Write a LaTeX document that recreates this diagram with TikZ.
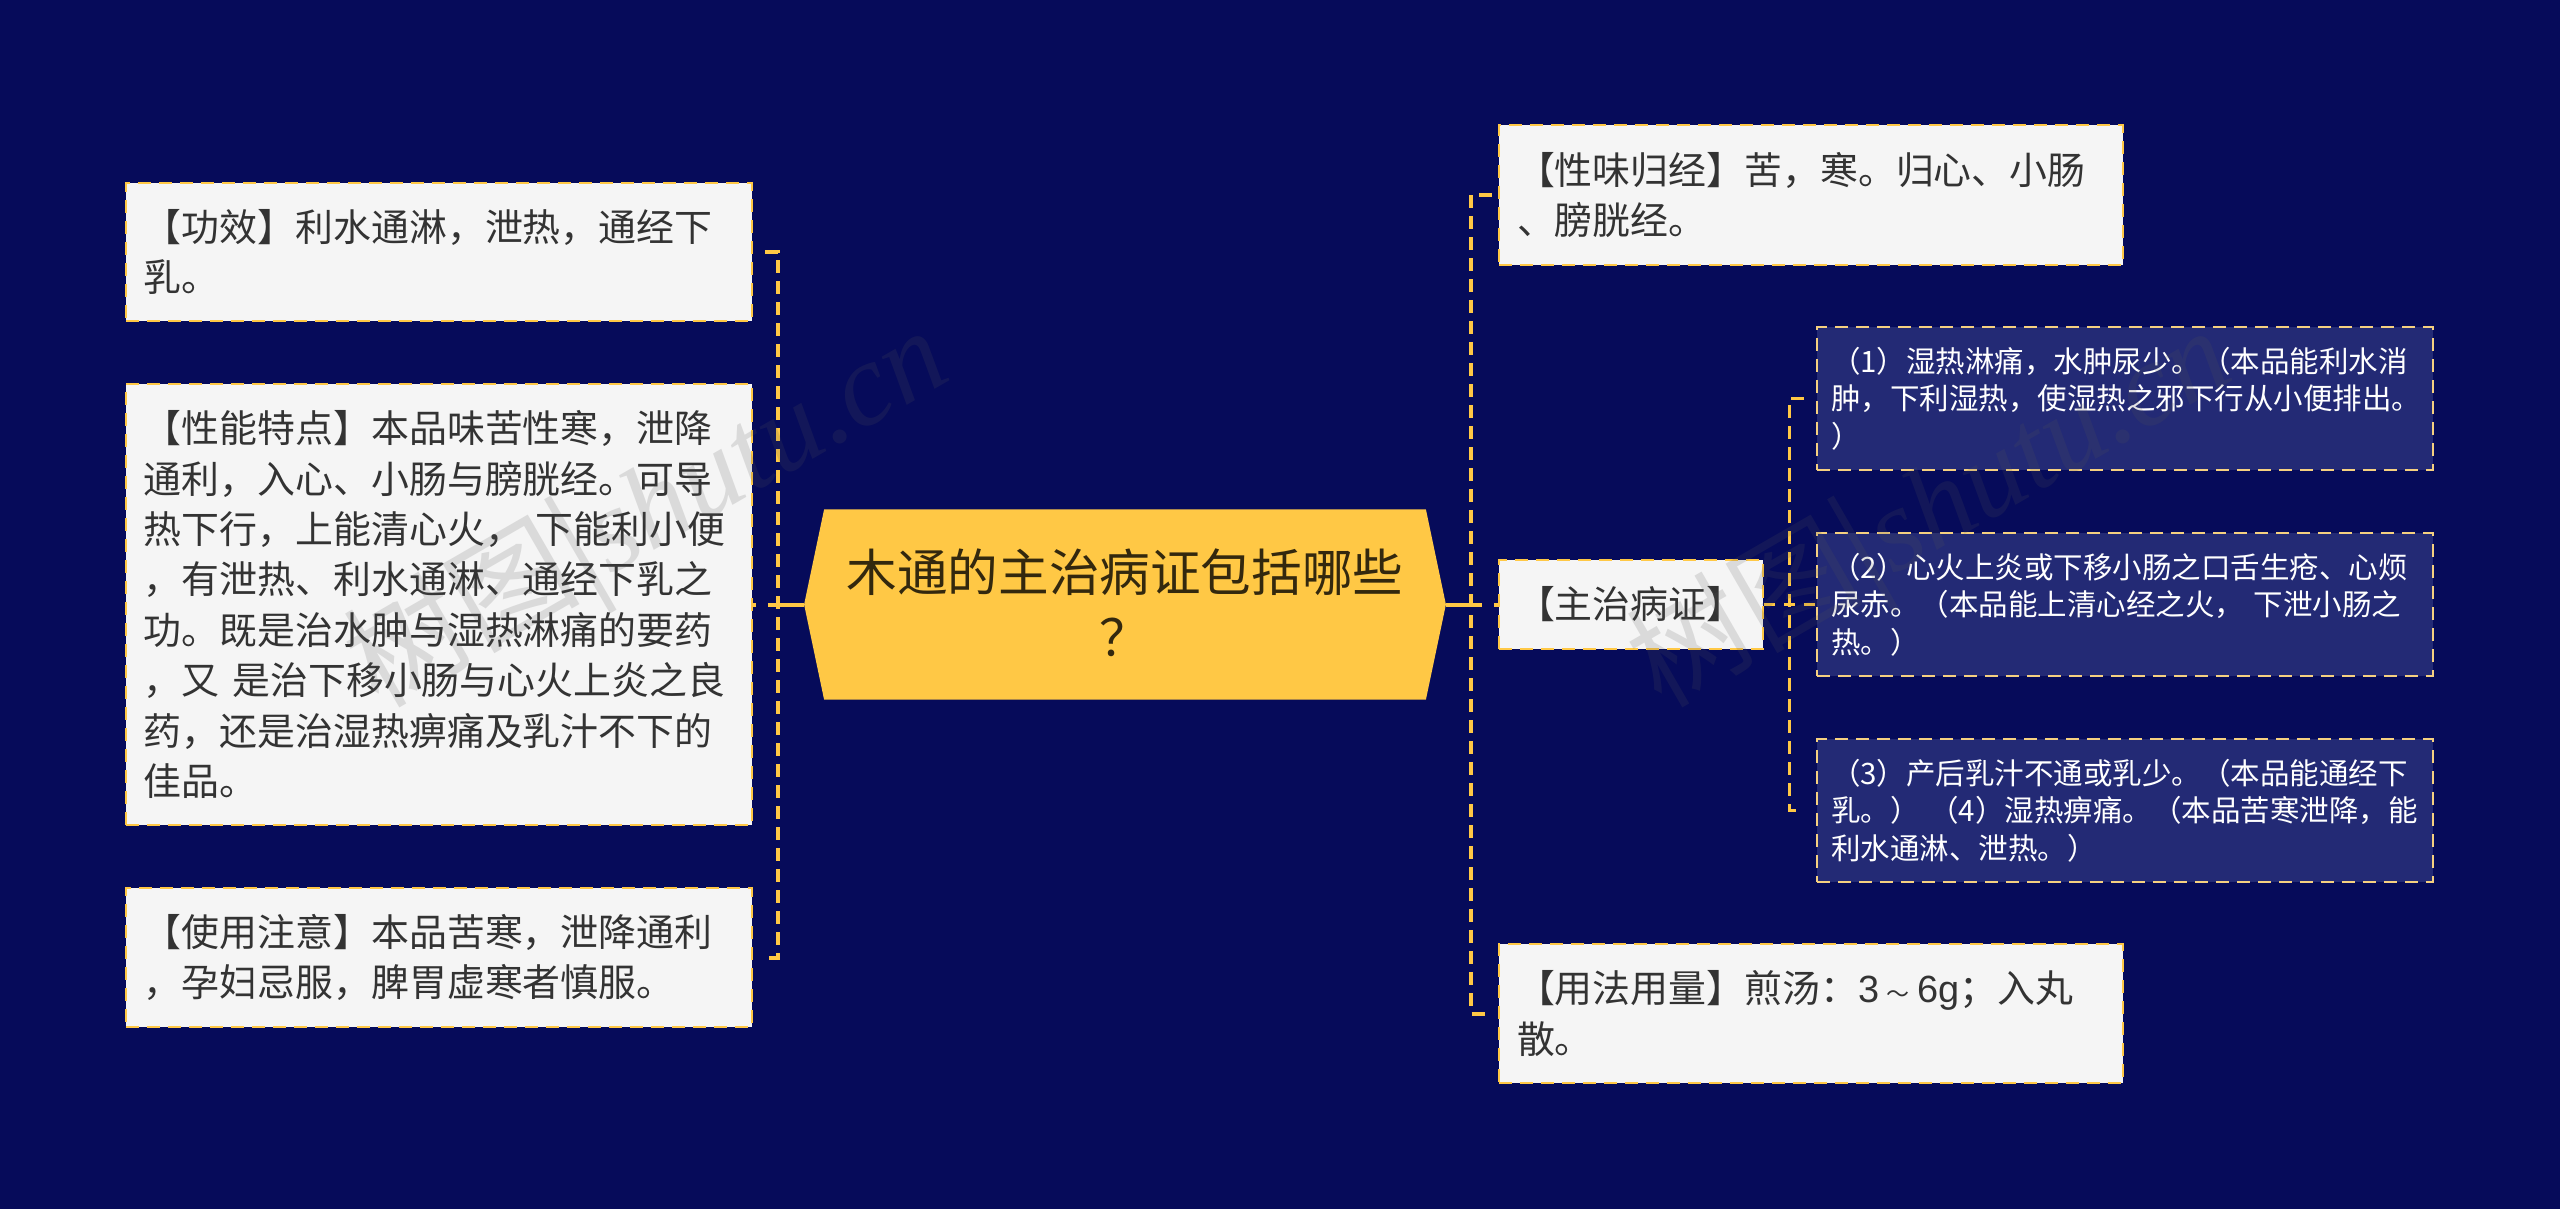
\documentclass[tikz,border=0pt]{standalone}
\usepackage{fontspec}
\setmainfont{Noto Sans CJK SC}
\newfontfamily\latf{Liberation Sans}
\newfontfamily\markf{Liberation Serif}
\usetikzlibrary{calc}
\definecolor{bgc}{HTML}{060B5A}
\definecolor{goldc}{HTML}{FFC845}
\definecolor{paleb}{HTML}{F5D080}
\definecolor{subf}{HTML}{232A75}
\definecolor{whitef}{HTML}{F5F5F5}
\definecolor{inkc}{HTML}{333333}
\definecolor{markc}{HTML}{555555}
\tikzset{
  px/.style={x=0.5pt,y=-0.5pt},
  card/.style={draw=goldc,line width=1.1pt,dash pattern=on 6.5pt off 4pt,fill=whitef,text=inkc,
    inner xsep=0pt,inner ysep=0pt,align=left,
    font=\fontsize{18.95pt}{25.2pt}\selectfont,execute at begin node={\leftskip=9pt\rightskip=0pt plus 1fil}},
  subcard/.style={draw=paleb,line width=1.1pt,dash pattern=on 6.5pt off 4pt,fill=subf,text=white,
    inner xsep=0pt,inner ysep=0pt,align=left,
    font=\fontsize{14.75pt}{18.8pt}\selectfont,execute at begin node={\leftskip=7pt\rightskip=0pt plus 1fil}},
  trunk/.style={draw=goldc,line width=2pt,dash pattern=on 6.5pt off 4pt},
  thin trunk/.style={draw=goldc,line width=1.1pt,dash pattern=on 6.5pt off 4pt},
  main link/.style={draw=goldc,line width=2pt,dash pattern=on 18pt off 6pt},
  mark text/.style={text=markc,opacity=0.17,font=\fontsize{59pt}{59pt}\selectfont,inner sep=0pt},
}
\newcommand{\bx}[7]{%
  \node[#6,minimum width={(#4-#2)*0.5pt},minimum height={(#5-#3)*0.5pt},text width={(#4-#2)*0.5pt}]
    (#1) at ({(#2+#4)/2},{(#3+#5)/2}) {#7};}
\newcommand{\marktext}{树图|{\markf\itshape shutu.cn}}
\begin{document}
\begin{tikzpicture}[px]
\useasboundingbox[fill=bgc] (0,0) rectangle (2560,1209);
% free corners of the connectors
\coordinate (tl) at (778,605);
\coordinate (tr) at (1471,605);
\coordinate (ts) at (1789.5,605);
% boxes
\bx{b1}{126}{183}{752}{321}{card}{【功效】利水通淋，泄热，通经下\\乳。}
\bx{b2}{126}{384}{752}{825}{card}{【性能特点】本品味苦性寒，泄降\\通利，入心、小肠与膀胱经。可导\\热下行，上能清心火， 下能利小便\\，有泄热、利水通淋、通经下乳之\\功。既是治水肿与湿热淋痛的要药\\，又 是治下移小肠与心火上炎之良\\药，还是治湿热痹痛及乳汁不下的\\佳品。}
\bx{b3}{126}{888}{752}{1027}{card}{【使用注意】本品苦寒，泄降通利\\，孕妇忌服，脾胃虚寒者慎服。}
\bx{r1}{1499}{125}{2123}{265}{card}{【性味归经】苦，寒。归心、小肠\\、膀胱经。}
\bx{r2}{1499}{560}{1763}{649}{card}{【主治病证】}
\bx{r3}{1499}{944}{2123}{1083}{card}{【用法用量】煎汤：{\latf 3}\makebox[19pt][c]{\fontsize{11.5pt}{11.5pt}\selectfont ～}{\latf 6g}；入丸\\散。}
\bx{s1}{1817}{327}{2433}{470}{subcard}{（1）湿热淋痛，水肿尿少。（本品能利水消\\肿，下利湿热，使湿热之邪下行从小便排出。\\）}
\bx{s2}{1817}{533}{2433}{676}{subcard}{（2）心火上炎或下移小肠之口舌生疮、心烦\\尿赤。（本品能上清心经之火， 下泄小肠之\\热。）}
\bx{s3}{1817}{739}{2433}{882}{subcard}{（3）产后乳汁不通或乳少。（本品能通经下\\乳。） （4）湿热痹痛。（本品苦寒泄降，能\\利水通淋、泄热。）}
% centre
\node[minimum width=320.5pt,minimum height=94.75pt,inner sep=0pt] (c) at (1125,604.5) {};
\fill[goldc] (c.west) -- ($(c.north west)+(20,0)$) -- ($(c.north east)+(-20,0)$) -- (c.east)
  -- ($(c.south east)+(-20,0)$) -- ($(c.south west)+(20,0)$) -- cycle;
\node[inner sep=0pt,text=black!80!goldc,align=center,font=\fontsize{25.3pt}{32.5pt}\selectfont] (ct) at ([yshift=1pt]c.center) {木通的主治病证包括哪些\\？};
% connectors
\draw[main link] (c.west) -- (b2.east |- c.west);
\draw[main link] (c.east) -- (r2.west |- c.east);
\draw[trunk,shorten <=6pt,shorten >=6pt] (b1.east) -- (b1.east -| tl) -- (b3.east -| tl) -- (b3.east);
\draw[trunk,shorten <=3pt,shorten >=3pt] (r1.west) -- (r1.west -| tr) -- (r3.west -| tr) -- (r3.west);
\draw[thin trunk,dash pattern=on 5.5pt off 4.5pt] (r2.east) -- (s2.west |- r2.east);
\draw[thin trunk,shorten <=6pt,shorten >=6pt] (s1.west) -- (s1.west -| ts) -- (s3.west -| ts) -- (s3.west);
% watermark
\node[mark text,rotate=30] (w1) at (650,515) {\marktext};
\node[mark text,rotate=30] (w2) at (1933,515) {\marktext};
\end{tikzpicture}
\end{document}
